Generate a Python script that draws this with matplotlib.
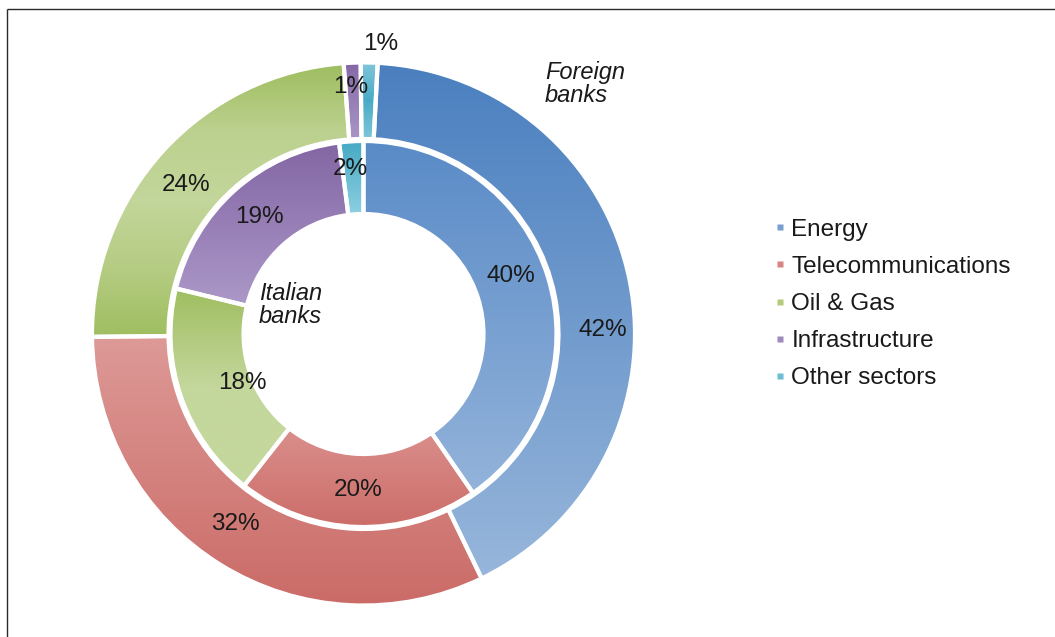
import numpy as np
import matplotlib.pyplot as plt
from matplotlib.colors import LinearSegmentedColormap
from matplotlib.lines import Line2D

plt.rcParams['font.family'] = ['Liberation Sans', 'DejaVu Sans']

# ==========================================
# DATA
# ==========================================
SECTORS = ['Energy', 'Telecommunications', 'Oil & Gas', 'Infrastructure', 'Other sectors']
FOREIGN_BANKS = [42, 32, 24, 1, 1]   # outer ring
ITALIAN_BANKS = [40, 20, 18, 19, 2]  # inner ring

# shading stops for each slice, top -> bottom
OUTER_SHADES = [
    ['#4a7fbf', '#97b6db'],
    ['#dd9a97', '#cb6b67'],
    ['#9ebd5f', '#bcd18f', '#c3d69b', '#b5cc83', '#9fbe60'],
    ['#8468a6', '#a996c5'],
    ['#80c6da', '#4aabc6', '#7fc5d9'],
]
INNER_SHADES = [
    ['#5a8bc7', '#93b3da'],
    ['#da8f8c', '#cc6d69'],
    ['#9fbe60', '#c4d79c', '#c4d79c'],
    ['#8266a4', '#ac98c8'],
    ['#45a9c4', '#8ed0e1'],
]
LEGEND_COLORS = ['#789fcf', '#d88482', '#b3cc7b', '#9f8abd', '#6dbdd3']

# ==========================================
# LAYOUT (pixel units, y up)
# ==========================================
W, H = 1055, 637
CX, CY = 363.5, H - 334
R_OUT, W_OUT, START_OUT = 271.5, 76.5, 87
R_IN, W_IN, START_IN = 193.0, 73.0, 90
PCT_SIZE = 17.5

# a few labels sit off the slice middle: index -> (angle deg, radius px)
OUTER_LABEL_MOVES = {0: (1.0, 239), 1: (-124.0, 229), 2: (140.0, 232),
                     3: (93.0, 247), 4: (86.7, 290)}
INNER_LABEL_MOVES = {0: (21.5, 158), 2: (-158.0, 131), 4: (94.6, 166)}


def mid_angles(values, start_angle):
    frac = np.cumsum(values) / np.sum(values)
    start = np.concatenate([[0.0], frac[:-1]])
    return start_angle - 360 * (start + frac) / 2


def draw_ring(ax, values, radius, width, start_angle, shades, moves):
    wedges, _ = ax.pie(values, radius=radius, center=(CX, CY), startangle=start_angle,
                       counterclock=False,
                       wedgeprops=dict(width=width, facecolor='none',
                                       edgecolor='white', linewidth=3))
    # vertical gradient fill clipped to each slice
    for w, stops in zip(wedges, shades):
        (x0, y0), (x1, y1) = w.get_path().get_extents().get_points()
        cmap = LinearSegmentedColormap.from_list('shade', stops)
        grad = cmap(np.linspace(0, 1, 256))[:, None, :3]
        im = ax.imshow(grad, extent=(x0, x1, y0, y1), origin='upper',
                       aspect='auto', interpolation='bilinear', zorder=0)
        im.set_clip_path(w)

    total = np.sum(values)
    label_r = radius - width / 2
    for i, (v, ang) in enumerate(zip(values, mid_angles(values, start_angle))):
        ang, r = moves.get(i, (ang, label_r))
        x = CX + r * np.cos(np.radians(ang))
        y = CY + r * np.sin(np.radians(ang))
        ax.text(x, y, f'{100 * v / total:.0f}%', ha='center', va='center',
                fontsize=PCT_SIZE, color='#1a1a1a', zorder=3)
    return wedges


fig = plt.figure(figsize=(W / 100, H / 100), dpi=100)
ax = fig.add_axes([0, 0, 1, 1])

draw_ring(ax, FOREIGN_BANKS, R_OUT, W_OUT, START_OUT, OUTER_SHADES, OUTER_LABEL_MOVES)
draw_ring(ax, ITALIAN_BANKS, R_IN, W_IN, START_IN, INNER_SHADES, INNER_LABEL_MOVES)

ax.text(545, H - 84.5, 'Foreign\nbanks', style='italic', ha='left', va='center',
        fontsize=17, color='#1a1a1a', linespacing=1.0)
ax.text(259, H - 305, 'Italian\nbanks', style='italic', ha='left', va='center',
        fontsize=17, color='#1a1a1a', linespacing=1.0)

# chart frame (only left and top edges fall inside the canvas)
ax.plot([6.5, 6.5], [-5, H - 9], color='#2a2a2a', lw=1.0, solid_capstyle='butt')
ax.plot([6.5, W + 5], [H - 9, H - 9], color='#2a2a2a', lw=1.0, solid_capstyle='butt')

ax.set_xlim(0, W)
ax.set_ylim(0, H)
ax.set_aspect('equal')
ax.axis('off')

handles = [Line2D([], [], marker='s', linestyle='none', markersize=5,
                  markerfacecolor=c, markeredgecolor='none') for c in LEGEND_COLORS]
fig.legend(handles, SECTORS, loc='center left', bbox_to_anchor=(775.5 / W, 1 - 304 / H),
           frameon=False, fontsize=17.5, handlelength=0.4, handletextpad=0.25,
           labelspacing=0.62, borderpad=0, borderaxespad=0, labelcolor='#1a1a1a')

fig.savefig('out.png', dpi=100)
